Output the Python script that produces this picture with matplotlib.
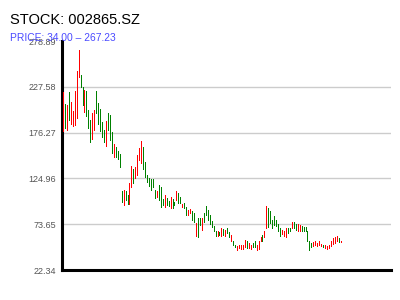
import numpy as np
import matplotlib
matplotlib.use('Agg')
import matplotlib.pyplot as plt

plt.rcParams['font.family'] = ['Liberation Sans', 'DejaVu Sans']

title = "STOCK: 002865.SZ"
subtitle = "PRICE: 34.00 \u2013 267.23"

# candle bodies: top, bottom, 1 = up (red) / 0 = down (green)
tops = [221.6, 208.6, 206.8, 221.6, 210.5, 200.4, 223.5, 245.8, 269.2, 241.3,
        227.2, 224.2, 223.5, 201.9, 190.0, 198.2, 201.2, 223.5, 209.4, 203.0,
        188.1, 178.9, 188.9, 198.2, 195.6, 177.0, 164.0, 160.3, 155.5, 152.8,
        111.2, 111.9, 111.2, 106.4, 119.4, 138.7, 136.1, 137.9, 151.0, 159.5,
        167.0, 160.3, 143.6, 128.7, 125.0, 123.8, 123.8, 111.9, 111.2, 117.5,
        115.7, 101.5, 106.4, 102.6, 100.0, 104.5, 101.5, 99.0, 110.8, 108.2,
        104.5, 96.0, 97.1, 93.4, 89.6, 90.4, 88.5, 85.9, 74.8, 80.3,
        80.3, 80.3, 85.9, 94.1, 89.6, 84.1, 77.4, 72.2, 65.5, 65.5,
        64.7, 69.2, 68.4, 67.3, 69.2, 64.7, 61.8, 55.1, 50.6, 49.5,
        50.6, 49.9, 50.6, 56.2, 54.3, 52.5, 50.6, 52.5, 54.3, 49.9,
        55.1, 58.8, 61.8, 66.2, 94.1, 92.2, 88.5, 78.5, 83.3, 78.5,
        73.7, 69.2, 67.3, 66.2, 69.2, 69.9, 69.9, 75.9, 76.6, 73.7,
        73.7, 72.9, 72.2, 71.0, 71.0, 65.5, 54.3, 52.5, 53.6, 55.1,
        52.5, 54.3, 51.3, 49.9, 50.6, 48.7, 50.6, 54.3, 58.0, 58.8,
        59.9, 58.0, 55.1]
bottoms = [178.1, 181.8, 178.9, 190.0, 186.3, 183.3, 184.4, 193.0, 238.4, 227.9,
           206.8, 199.3, 194.5, 181.8, 165.9, 169.6, 178.9, 198.2, 186.3, 178.1,
           171.4, 165.9, 161.0, 178.9, 167.7, 153.6, 149.1, 149.1, 147.3, 138.0,
           98.9, 95.2, 100.8, 96.3, 96.3, 115.7, 119.4, 125.0, 128.7, 145.4,
           142.4, 136.1, 126.8, 121.2, 116.4, 111.9, 115.7, 102.6, 104.5, 100.8,
           93.4, 95.2, 93.4, 95.2, 94.1, 91.5, 91.5, 95.2, 100.8, 97.8,
           97.1, 93.4, 91.5, 84.1, 84.1, 85.9, 78.5, 76.6, 59.9, 58.8,
           72.9, 67.3, 76.6, 84.1, 78.5, 73.7, 71.0, 66.2, 61.0, 61.0,
           61.8, 61.0, 61.8, 59.9, 63.6, 58.8, 55.1, 50.6, 47.6, 45.0,
           46.9, 46.1, 46.1, 47.6, 46.9, 46.9, 46.1, 47.6, 47.6, 45.0,
           45.8, 54.3, 54.3, 58.8, 69.2, 71.0, 74.8, 69.2, 72.9, 72.2,
           65.5, 61.0, 62.5, 59.9, 58.8, 63.6, 65.5, 69.2, 69.9, 67.3,
           66.2, 66.2, 66.2, 65.5, 65.5, 54.3, 45.0, 47.6, 48.7, 49.9,
           48.7, 50.6, 48.7, 47.6, 46.9, 46.1, 46.9, 48.7, 51.3, 52.5,
           54.3, 53.6, 53.6]
up = [1, 0, 1, 0, 1, 1, 1, 1, 1, 0,
      0, 1, 0, 0, 0, 1, 1, 0, 0, 0,
      0, 0, 1, 0, 0, 0, 1, 0, 0, 0,
      0, 1, 0, 0, 1, 1, 0, 1, 1, 1,
      1, 0, 0, 0, 0, 0, 0, 0, 1, 0,
      0, 0, 1, 0, 0, 1, 0, 0, 1, 0,
      0, 1, 0, 0, 1, 1, 0, 0, 1, 0,
      0, 1, 0, 0, 0, 0, 0, 0, 0, 1,
      0, 1, 0, 1, 0, 0, 1, 0, 0, 1,
      1, 1, 1, 1, 0, 1, 1, 0, 0, 1,
      1, 1, 0, 1, 1, 0, 0, 0, 0, 0,
      0, 0, 1, 1, 1, 0, 0, 1, 0, 0,
      1, 1, 0, 0, 0, 0, 0, 0, 1, 1,
      1, 1, 1, 0, 1, 1, 1, 1, 1, 1,
      1, 0, 1]

y_ticks = [22.34, 73.65, 124.96, 176.27, 227.58, 278.89]

fig = plt.figure(figsize=(4, 3), dpi=100)
ax = fig.add_axes([0.155, 0.1, 0.8225, 0.763])

x = np.arange(len(tops))
colors = ['red' if u else 'green' for u in up]

# grid lines (not at the top edge)
for t in y_ticks[1:-1]:
    ax.axhline(t, color='#cccccc', linewidth=1.0, zorder=1)

# one pixel wide bars
ax.vlines(x, bottoms, tops, colors=colors, linewidth=0.72, antialiased=False, zorder=3)

ax.set_xlim(-0.5, 167.7)
ax.set_ylim(y_ticks[0], y_ticks[-1])
ax.set_yticks(y_ticks)
ax.set_yticklabels([f"{t:.2f}" for t in y_ticks])
ax.set_xticks([])
ax.tick_params(axis='y', length=0, pad=4, labelsize=6.5, labelcolor='#555555')

for side in ['top', 'right']:
    ax.spines[side].set_visible(False)
for side in ['left', 'bottom']:
    ax.spines[side].set_linewidth(2.2)
    ax.spines[side].set_color('black')

fig.text(10 / 400, 1 - 24 / 300, title, fontsize=10.5, color='black', ha='left', va='baseline')
fig.text(10 / 400, 1 - 41 / 300, subtitle, fontsize=7.4, color='#4a4aff', ha='left', va='baseline')

plt.savefig('out.png', dpi=100)
plt.close()
